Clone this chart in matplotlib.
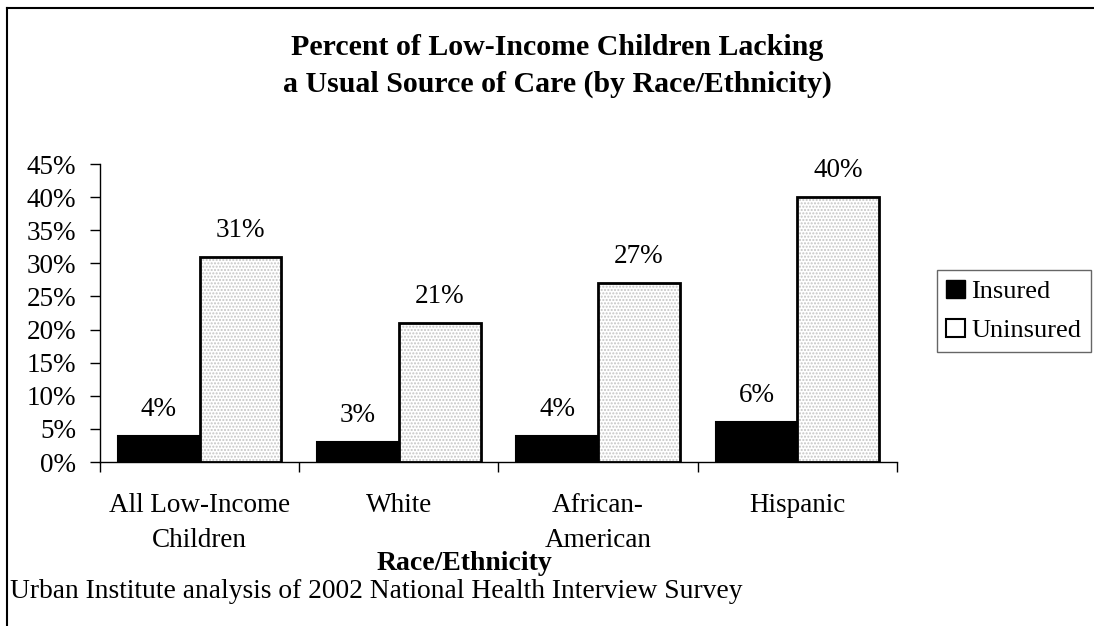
import matplotlib
matplotlib.use("Agg")
import matplotlib.pyplot as plt
from matplotlib.patches import Patch
from matplotlib.lines import Line2D
import numpy as np

categories = ["All Low-Income\nChildren", "White", "African-\nAmerican", "Hispanic"]
insured = [4, 3, 4, 6]
uninsured = [31, 21, 27, 40]
yticks = [0, 5, 10, 15, 20, 25, 30, 35, 40, 45]

plt.rcParams['font.family'] = ['Liberation Serif', 'DejaVu Serif']
fs = 19.5

fig = plt.figure(figsize=(10.94, 6.26), dpi=100)
ax = fig.add_axes([100 / 1094, 1 - 462 / 626, 797 / 1094, 298 / 626])

x = np.arange(len(categories))
w = 0.41
ax.bar(x - w / 2, insured, w, color='black', edgecolor='black', linewidth=1.5, zorder=3)
# dotted fill of the uninsured bars, then the black outline on top
ax.bar(x + w / 2, uninsured, w, color='white', edgecolor='#c4c4c4', hatch='.....',
       linewidth=0, zorder=2)
ax.bar(x + w / 2, uninsured, w, fill=False, edgecolor='black', linewidth=2, zorder=3)

for xi, v in zip(x - w / 2, insured):
    ax.annotate(f"{v}%", (xi, v), xytext=(0, 10), textcoords='offset points',
                ha='center', va='bottom', fontsize=fs)
for xi, v in zip(x + w / 2, uninsured):
    ax.annotate(f"{v}%", (xi, v), xytext=(0, 10), textcoords='offset points',
                ha='center', va='bottom', fontsize=fs)

ax.set_xlim(-0.5, 3.5)
ax.set_ylim(0, 45)
ax.set_yticks(yticks)
ax.set_yticklabels([f"{t}%" for t in yticks], fontsize=fs)
ax.set_xticks(np.arange(-0.5, 4, 1))
ax.set_xticklabels([])
ax.set_xticks(x, minor=True)
ax.set_xticklabels(categories, minor=True, fontsize=fs, linespacing=1.55, va='top')
ax.tick_params(axis='x', which='minor', length=0, pad=22)
ax.tick_params(axis='x', which='major', length=7, width=1, direction='out')
ax.tick_params(axis='y', length=7, width=1, direction='out', pad=10)
ax.spines['top'].set_visible(False)
ax.spines['right'].set_visible(False)
ax.spines['left'].set_linewidth(1)
ax.spines['bottom'].set_linewidth(1)

handles = [Patch(facecolor='black', edgecolor='black', label='Insured'),
           Patch(facecolor='white', edgecolor='black', linewidth=1.5, label='Uninsured')]
leg = fig.legend(handles=handles, loc='center left', bbox_to_anchor=(937 / 1094, 1 - 311 / 626),
                 fontsize=19, frameon=True, fancybox=False, handlelength=0.7, handleheight=0.7,
                 handletextpad=0.25, borderpad=0.35, labelspacing=0.6, borderaxespad=0)
leg.get_frame().set_edgecolor('#404040')
leg.get_frame().set_linewidth(1)

fig.text(557 / 1094, 1 - 66 / 626, "Percent of Low-Income Children Lacking\na Usual Source of Care (by Race/Ethnicity)",
         ha='center', va='center', fontsize=21.5, fontweight='bold', linespacing=1.45)
fig.text(464 / 1094, 1 - 564 / 626, "Race/Ethnicity", ha='center', va='center',
         fontsize=20, fontweight='bold')
fig.text(10 / 1094, 1 - 592 / 626, "Urban Institute analysis of 2002 National Health Interview Survey",
         ha='left', va='center', fontsize=19.8)

# frame lines at top and left of the figure
fig.add_artist(Line2D([7 / 1094, 1], [1 - 8 / 626, 1 - 8 / 626], color='black', lw=1.5))
fig.add_artist(Line2D([7 / 1094, 7 / 1094], [0, 1 - 8 / 626], color='black', lw=1.5))

fig.savefig("out.png", dpi=100)
